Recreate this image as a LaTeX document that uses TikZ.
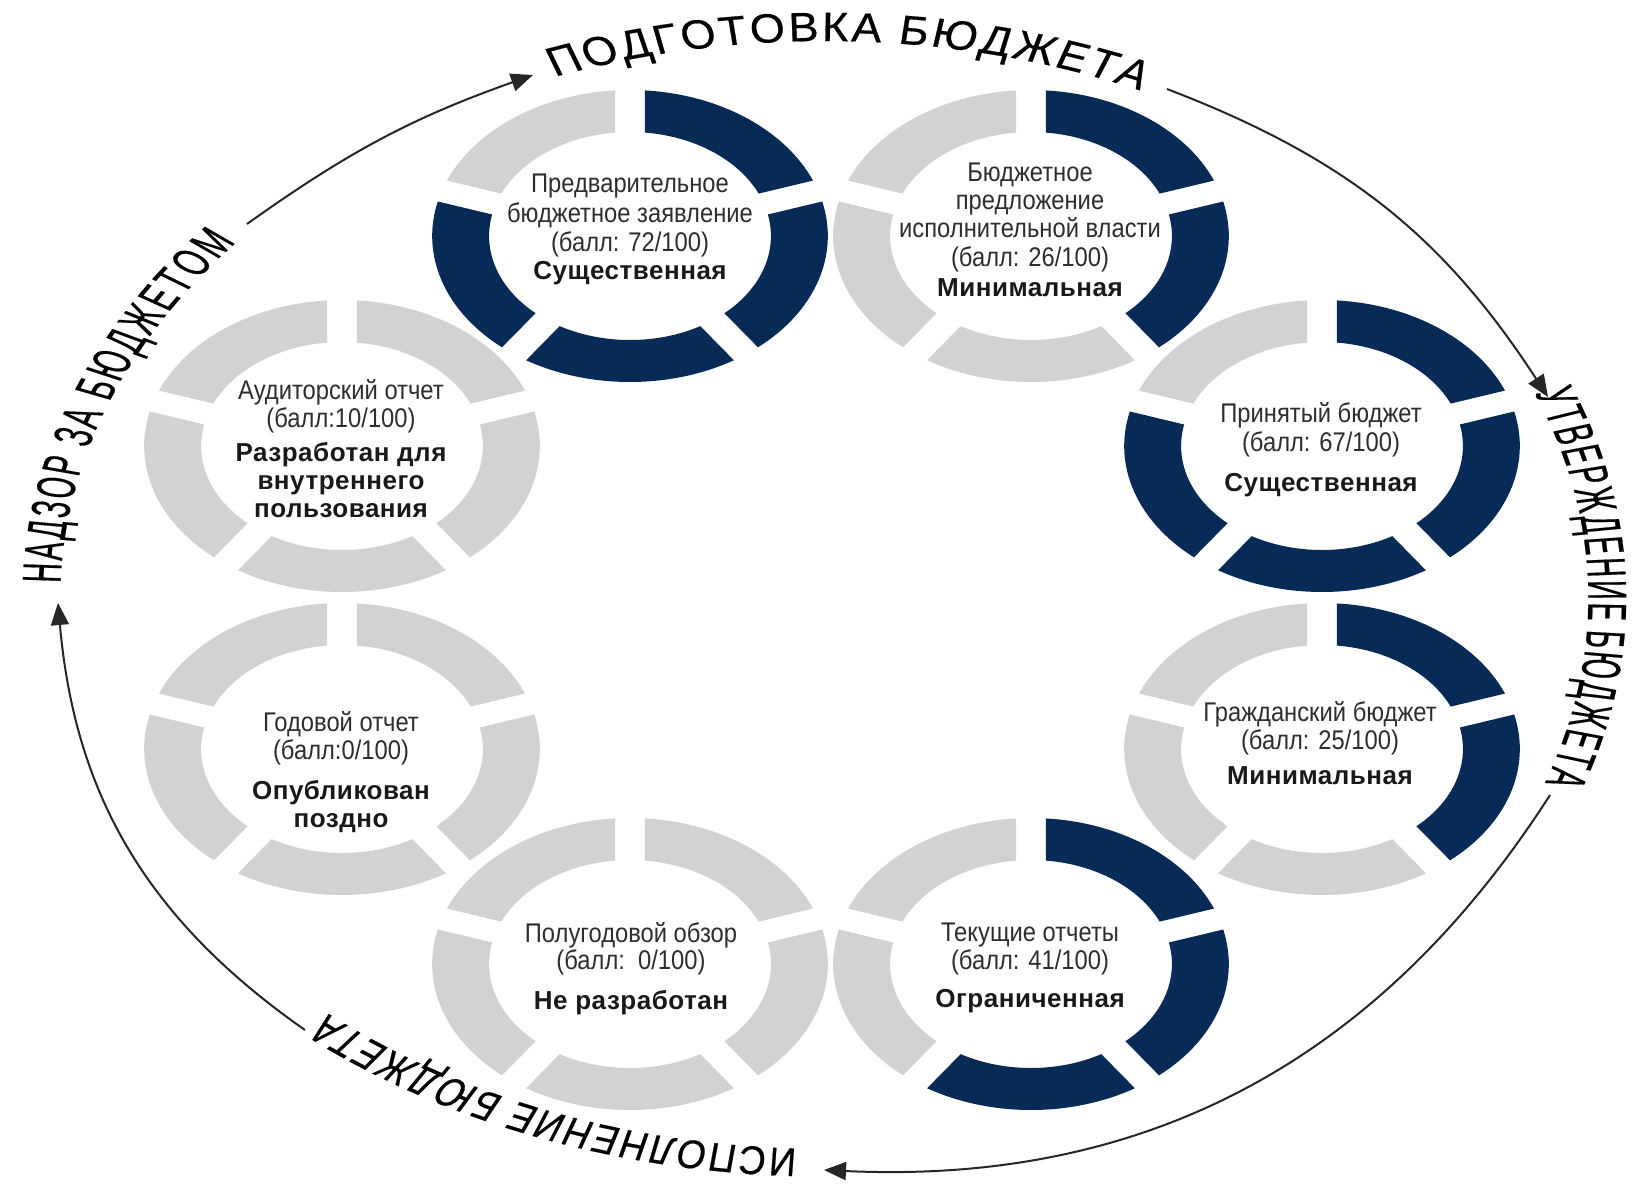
\documentclass[tikz,border=0pt]{standalone}
\usepackage{fontspec}
\setmainfont{Liberation Sans}
\newfontfamily\rn[FakeStretch=0.88]{Liberation Sans}
\newfontfamily\rbf[LetterSpace=2]{Liberation Sans}
\newfontfamily\outT[FakeStretch=0.8,FakeBold=0.4]{Liberation Sans}
\newfontfamily\outS[FakeStretch=0.68,FakeBold=0.4]{Liberation Sans}
\usetikzlibrary{arrows.meta}
\definecolor{navy}{RGB}{8,42,86}
\definecolor{lgray}{RGB}{209,210,212}
\definecolor{txt}{RGB}{45,45,50}
\newcommand\RingOut{146}
\newcommand\RingIn{104}
\newcommand\GapOut{4.32}
\newcommand\GapIn{6.07}
\newcommand\ringseg[3]{\fill[#3] ({#1+\GapOut}:\RingOut) arc[start angle={#1+\GapOut}, end angle={#2-\GapOut}, radius=\RingOut] -- ({#2-\GapIn}:\RingIn) arc[start angle={#2-\GapIn}, end angle={#1+\GapIn}, radius=\RingIn] -- cycle;}
\newcommand\donut[8]{\coordinate (#1) at (#2,-#3);
  \begin{scope}[shift={(#2,-#3)}, xscale=1.355]
  \ringseg{18}{90}{#4}\ringseg{-54}{18}{#5}\ringseg{-126}{-54}{#6}\ringseg{162}{234}{#7}\ringseg{90}{162}{#8}
  \end{scope}}
% letters set one by one on a circle (stretched horizontally with the picture),
% spread between a start and an end angle; widths given in 1/1000 em
\newcommand\circfit[9]{% #1 prefix, #2 radius, #3 start, #4 end, #5 style, #6 units per 1/1000 em, #7 letter/width list, #8 sum of widths, #9 number of items
  \begin{scope}[shift={(825,-598)}, xscale=1.373, transform shape]
  \pgfmathsetmacro\arclen{abs(#3-(#4))*pi/180*#2}
  \pgfmathsetmacro\trk{(\arclen-#8*#6)/(#9-1)}
  \xdef\curang{#3}
  \foreach \letr/\lw [count=\li] in {#7} {
    \pgfmathsetmacro\tang{\curang-(\lw*#6/2)/#2*180/pi}
    \node[#5, rotate=\tang-90] (#1\li) at (\tang:#2) {\letr};
    \pgfmathsetmacro\tmpv{\curang-(\lw*#6+\trk)/#2*180/pi}
    \xdef\curang{\tmpv}
  }
  \end{scope}}
\begin{document}
\begin{tikzpicture}[x=0.5pt,y=0.5pt,
  rt/.style={font=\rn\fontsize{13.5pt}{16pt}\selectfont, text=txt, anchor=base, inner sep=0pt},
  rb/.style={font=\rbf\bfseries\fontsize{13pt}{16pt}\selectfont, text=black!90, anchor=base, inner sep=0pt},
  olT/.style={font=\outT\fontsize{20.5pt}{24pt}\selectfont, text=black, anchor=base, inner sep=0pt},
  olS/.style={font=\outS\fontsize{20pt}{24pt}\selectfont, text=black, anchor=base, inner sep=0pt},
  arr/.style={draw=black!85, line width=1pt, -{Triangle[length=11pt,width=9pt]}}]
\fill[white] (0,0) rectangle (1634,-1184);
\useasboundingbox (0,0) rectangle (1634,-1184);

% rings
\donut{c1}{630}{236}{navy}{navy}{navy}{navy}{lgray}
\donut{c2}{1031}{236}{navy}{navy}{lgray}{lgray}{lgray}
\donut{c3}{1322}{446}{navy}{navy}{navy}{navy}{lgray}
\donut{c4}{342}{446}{lgray}{lgray}{lgray}{lgray}{lgray}
\donut{c5}{342}{749}{lgray}{lgray}{lgray}{lgray}{lgray}
\donut{c6}{1322}{749}{navy}{navy}{lgray}{lgray}{lgray}
\donut{c7}{1031}{964}{navy}{navy}{navy}{lgray}{lgray}
\donut{c8}{630}{964}{lgray}{lgray}{lgray}{lgray}{lgray}

% ring texts
\node[rt] (t1a) at (630,-192) {Предварительное};
\node[rt] (t1b) at (630,-222) {бюджетное заявление};
\node[rt] (t1c) at (630,-251) {(балл: 72/100)};
\node[rb] (t1d) at (630,-279) {Существенная};

\node[rt] (t2a) at (1030,-181) {Бюджетное};
\node[rt] (t2b) at (1030,-209) {предложение};
\node[rt] (t2c) at (1030,-237) {исполнительной власти};
\node[rt] (t2d) at (1030,-266) {(балл: 26/100)};
\node[rb] (t2e) at (1030,-296) {Минимальная};

\node[rt] (t3a) at (1321,-422) {Принятый бюджет};
\node[rt] (t3b) at (1321,-451) {(балл: 67/100)};
\node[rb] (t3c) at (1321,-491) {Существенная};

\node[rt] (t4a) at (341,-399) {Аудиторский отчет};
\node[rt] (t4b) at (341,-427) {(балл:10/100)};
\node[rb] (t4c) at (341,-461) {Разработан для};
\node[rb] (t4d) at (341,-489) {внутреннего};
\node[rb] (t4e) at (341,-517) {пользования};

\node[rt] (t5a) at (341,-731) {Годовой отчет};
\node[rt] (t5b) at (341,-759) {(балл:0/100)};
\node[rb] (t5c) at (341,-799) {Опубликован};
\node[rb] (t5d) at (341,-827) {поздно};

\node[rt] (t6a) at (1320,-721) {Гражданский бюджет};
\node[rt] (t6b) at (1320,-749) {(балл: 25/100)};
\node[rb] (t6c) at (1320,-784) {Минимальная};

\node[rt] (t7a) at (1030,-941) {Текущие отчеты};
\node[rt] (t7b) at (1030,-969) {(балл: 41/100)};
\node[rb] (t7c) at (1030,-1007) {Ограниченная};

\node[rt] (t8a) at (631,-942) {Полугодовой обзор};
\node[rt] (t8b) at (631,-969) {(балл:~~0/100)};
\node[rb] (t8c) at (631,-1009) {Не разработан};

% outer curved labels
\circfit{p}{557}{110.67}{65.68}{olT}{0.0328}{П/719,О/778,Д/688,Г/542,О/778,Т/611,О/778,В/667,К/583,А/667,{}/250,Б/656,Ю/1010,Д/688,Ж/923,Е/667,Т/611,А/667}{12283}{18}
\circfit{u}{556}{21.64}{-19.44}{olS}{0.0272}{У/635,Т/611,В/667,Е/667,Р/667,Ж/923,Д/688,Е/667,Н/722,И/719,Е/667,{}/150,Б/656,Ю/1010,Д/688,Ж/923,Е/667,Т/611,А/667}{13005}{19}
\circfit{i}{551}{-92.12}{-131.0}{olS}{0.0272}{И/719,С/722,П/719,О/778,Л/656,Н/722,Е/667,Н/722,И/719,Е/667,{}/250,Б/656,Ю/1010,Д/688,Ж/923,Е/667,Т/611,А/667}{12563}{18}
\circfit{n}{557}{178.46}{140.3}{olS}{0.0272}{Н/722,А/667,Д/688,З/604,О/778,Р/667,{}/250,З/604,А/667,{}/250,Б/656,Ю/1010,Д/688,Ж/923,Е/667,Т/611,О/778,М/833}{12063}{18}

% arrows
\coordinate (a1s) at (247,-224); \coordinate (a1e) at (533,-75);
\coordinate (a2s) at (1167,-89); \coordinate (a2e) at (1548,-397);
\coordinate (a3s) at (1550,-795); \coordinate (a3e) at (824,-1170);
\coordinate (a4s) at (305,-1030); \coordinate (a4e) at (58,-603);
\draw[arr] (a1s) to[bend left=8] (a1e);
\draw[arr] (a2s) to[bend left=18] (a2e);
\draw[arr] (a3s) to[bend left=30] (a3e);
\draw[arr] (a4s) to[bend left=25] (a4e);
\end{tikzpicture}
\end{document}
